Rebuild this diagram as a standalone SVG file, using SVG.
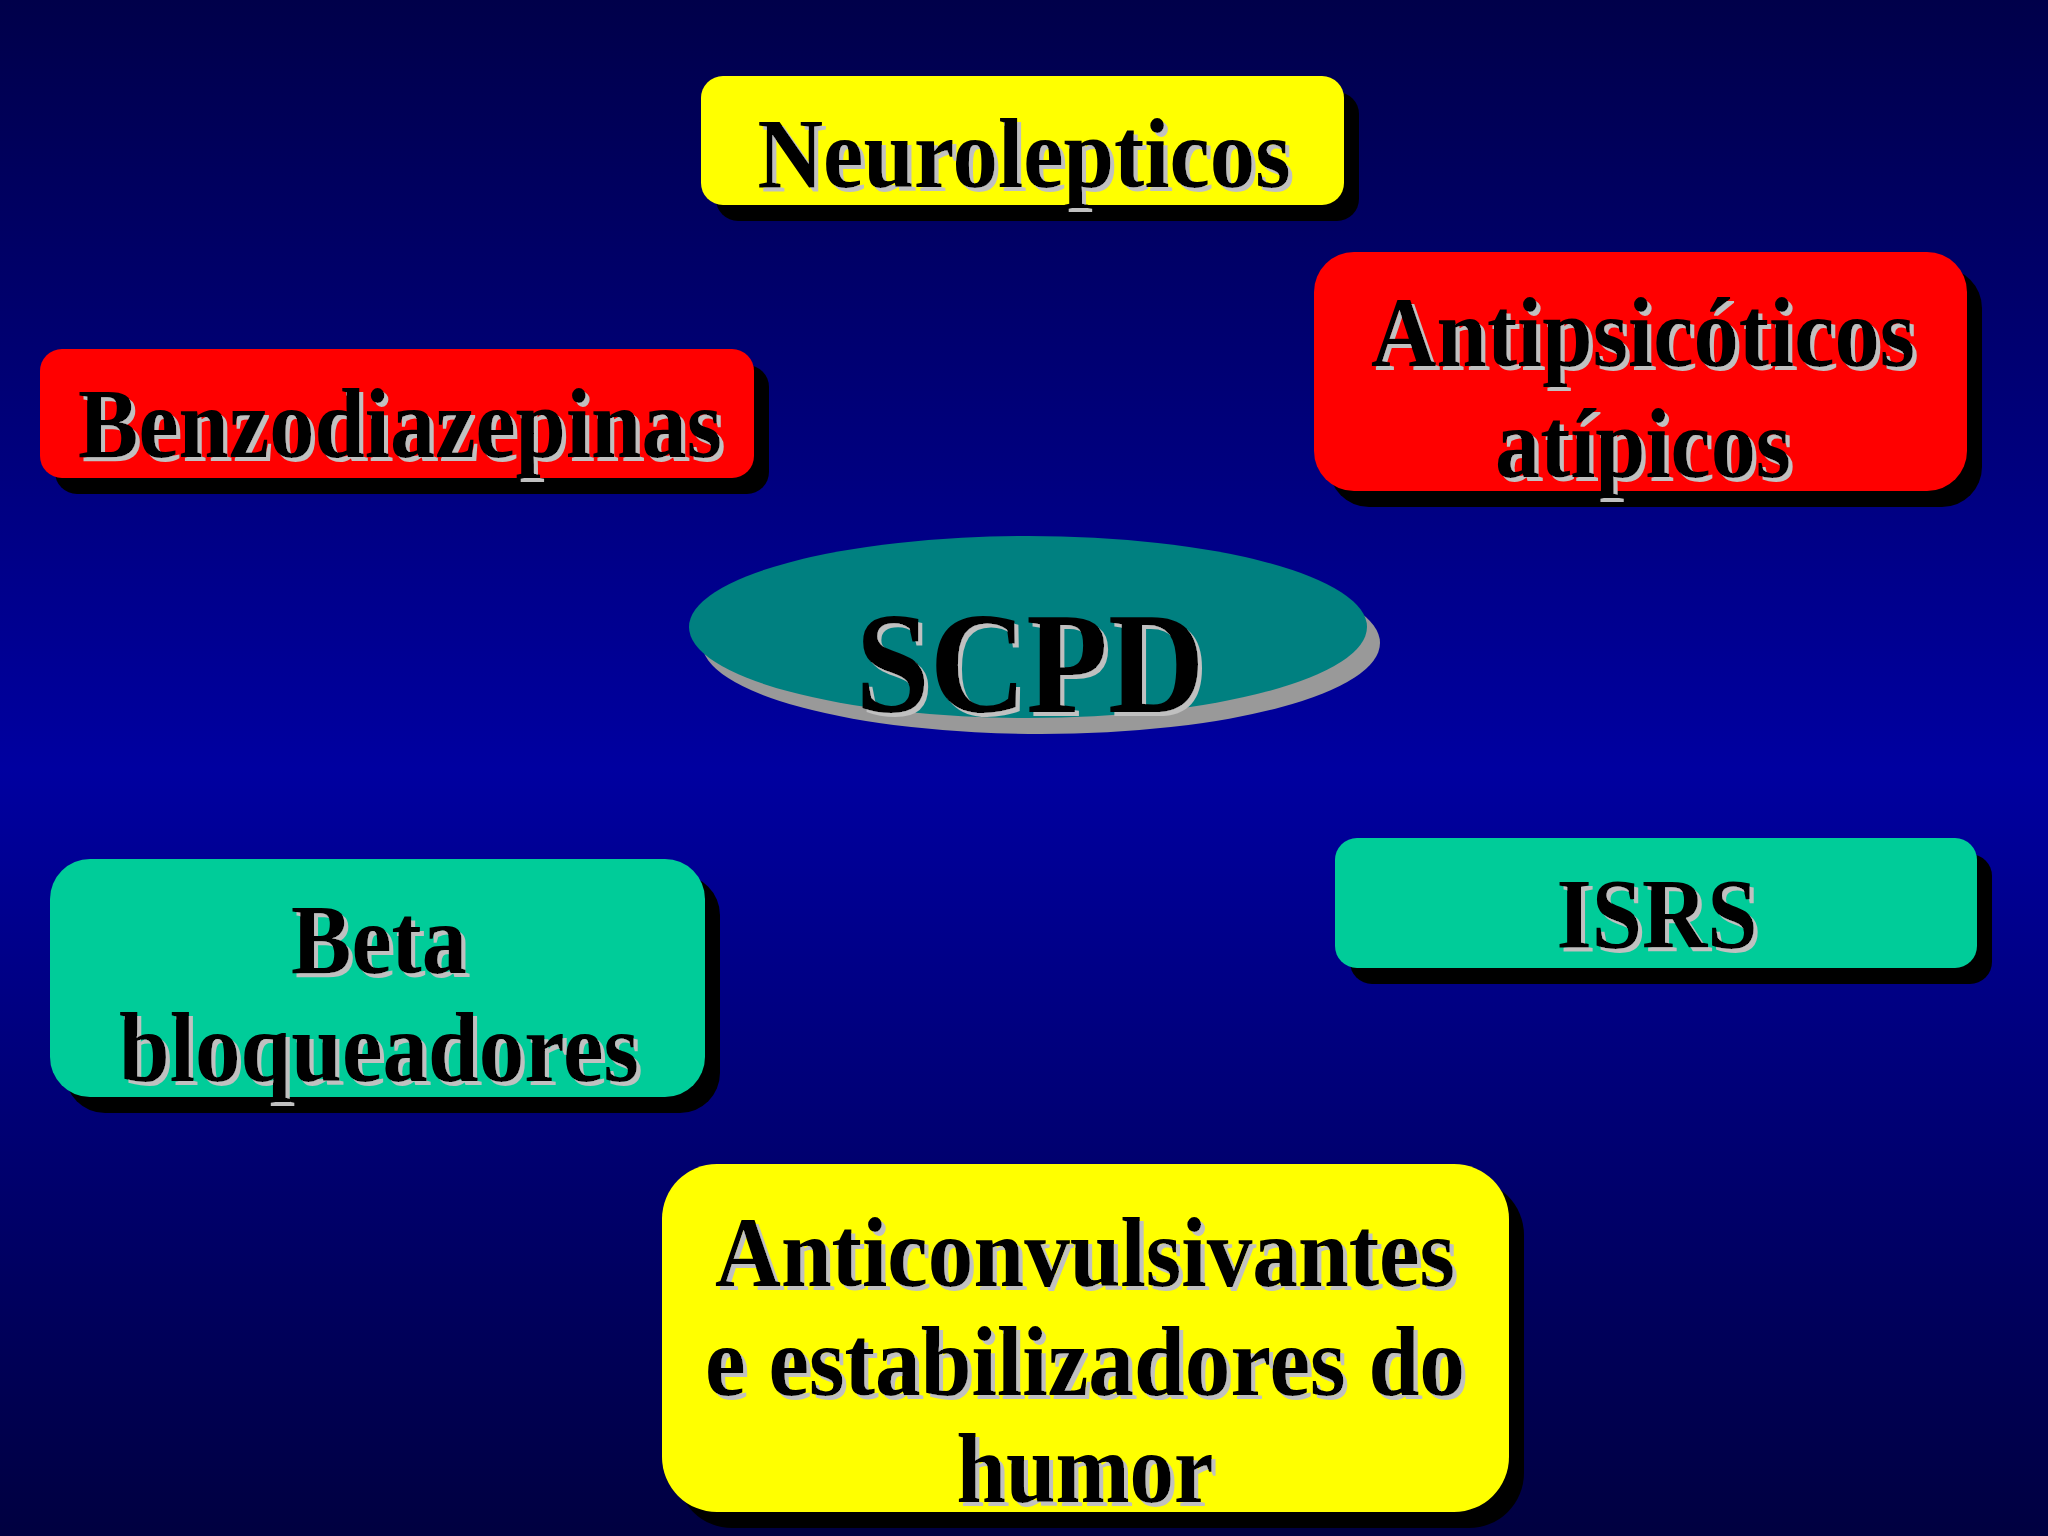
<svg xmlns="http://www.w3.org/2000/svg" width="2048" height="1536" viewBox="0 0 2048 1536">
<defs>
<linearGradient id="bg" x1="0" y1="0" x2="0" y2="1">
<stop offset="0" stop-color="#00004a"/>
<stop offset="0.5" stop-color="#0000a0"/>
<stop offset="1" stop-color="#000040"/>
</linearGradient>
<filter id="tsh" x="-5%" y="-10%" width="110%" height="130%">
<feFlood flood-color="#c0c0c0" result="c"/>
<feComposite in="c" in2="SourceAlpha" operator="in" result="s"/>
<feOffset in="s" dx="4" dy="4" result="o"/>
<feMerge><feMergeNode in="o"/><feMergeNode in="SourceGraphic"/></feMerge>
</filter>
<style>
.t{font-family:"Liberation Serif","Times New Roman",serif;font-weight:bold;font-size:100px;text-anchor:middle;fill:#000;filter:url(#tsh)}
.bs{fill:#000}
.yel{fill:#ffff00}
.red{fill:#ff0000}
.grn{fill:#00cc99}
</style>
</defs>
<rect width="2048" height="1536" fill="url(#bg)"/>
<g id="connectors"/>
<g id="neurolepticos">
<rect class="bs" x="716" y="92" width="643" height="129" rx="22"/>
<rect class="yel" x="701" y="76" width="643" height="129" rx="22"/>
<text class="t" x="1024" y="187" textLength="533" lengthAdjust="spacingAndGlyphs">Neurolepticos</text>
</g>
<g id="benzodiazepinas">
<rect class="bs" x="55" y="365" width="714" height="129" rx="22"/>
<rect class="red" x="40" y="349" width="714" height="129" rx="22"/>
<text class="t" x="400" y="457" textLength="644" lengthAdjust="spacingAndGlyphs">Benzodiazepinas</text>
</g>
<g id="antipsicoticos">
<rect class="bs" x="1329" y="268" width="653" height="239" rx="40"/>
<rect class="red" x="1314" y="252" width="653" height="239" rx="40"/>
<text class="t" x="1643" y="366" textLength="544" lengthAdjust="spacingAndGlyphs">Antipsicóticos</text>
<text class="t" x="1643" y="477" textLength="296" lengthAdjust="spacingAndGlyphs">atípicos</text>
</g>
<g id="scpd">
<ellipse cx="1041" cy="643" rx="339" ry="91" fill="#999999"/>
<ellipse cx="1028" cy="627" rx="339" ry="91" fill="#008080"/>
<text class="t" x="1030" y="712" style="font-size:145px" textLength="349" lengthAdjust="spacingAndGlyphs">SCPD</text>
</g>
<g id="beta">
<rect class="bs" x="65" y="875" width="655" height="238" rx="40"/>
<rect class="grn" x="50" y="859" width="655" height="238" rx="40"/>
<text class="t" x="379" y="973" textLength="176" lengthAdjust="spacingAndGlyphs">Beta</text>
<text class="t" x="379" y="1081" textLength="520" lengthAdjust="spacingAndGlyphs">bloqueadores</text>
</g>
<g id="isrs">
<rect class="bs" x="1350" y="854" width="642" height="130" rx="22"/>
<rect class="grn" x="1335" y="838" width="642" height="130" rx="22"/>
<text class="t" x="1657" y="947" textLength="201" lengthAdjust="spacingAndGlyphs">ISRS</text>
</g>
<g id="anticonvulsivantes">
<rect class="bs" x="677" y="1180" width="847" height="348" rx="55"/>
<rect class="yel" x="662" y="1164" width="847" height="348" rx="55"/>
<text class="t" x="1085" y="1286" textLength="740" lengthAdjust="spacingAndGlyphs">Anticonvulsivantes</text>
<text class="t" x="1085" y="1395" textLength="760" lengthAdjust="spacingAndGlyphs">e estabilizadores do</text>
<text class="t" x="1085" y="1502" textLength="257" lengthAdjust="spacingAndGlyphs">humor</text>
</g>
</svg>
